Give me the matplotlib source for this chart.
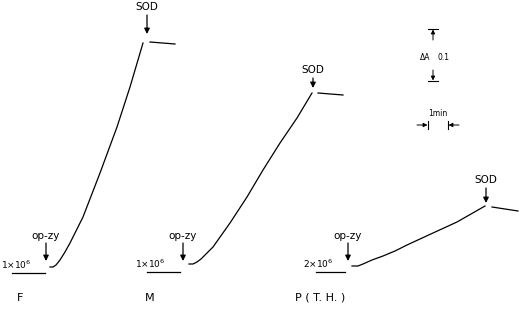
import matplotlib
matplotlib.use("Agg")
import matplotlib.pyplot as plt

# traces (pixel units, y grows downwards)
f_x = [50, 53, 56, 60, 65, 70, 76, 83, 100, 117, 130, 143]
f_y = [267, 267, 265, 260, 252, 243, 231, 217, 173, 127, 87, 43]
m_x = [189, 193, 197, 201, 206, 213, 230, 247, 263, 280, 297, 312]
m_y = [264, 264, 262, 259, 254, 247, 223, 197, 170, 143, 118, 93]
p_x = [352, 358, 363, 372, 383, 395, 407, 420, 433, 457, 485]
p_y = [266, 266, 264, 260, 256, 251, 245, 239, 233, 222, 206]

# after SOD segments
f_sod_x, f_sod_y = [150, 175], [42, 44]
m_sod_x, m_sod_y = [318, 343], [93, 95]
p_sod_x, p_sod_y = [492, 518], [207, 211]

# baseline bars under the cell-count labels
base_x = [(12, 45), (147, 180), (316, 345)]
base_y = [273, 272, 272]
cell_labels = ["1×10$^6$", "1×10$^6$", "2×10$^6$"]
cell_x = [1, 135, 303]
cell_y = [265, 264, 264]

panel_labels = ["F", "M", "P ( T. H. )"]
panel_x = [20, 150, 320]

opzy_x = [46, 183, 348]
sod_x = [147, 313, 486]
sod_top = [7, 70, 180]
sod_tip = [34, 88, 203]

fig = plt.figure(figsize=(5.2, 3.09), dpi=100)
ax = fig.add_axes([0, 0, 1, 1])
ax.set_xlim(0, 520)
ax.set_ylim(309, 0)
ax.axis("off")

lw = 0.9
for xs, ys in [(f_x, f_y), (m_x, m_y), (p_x, p_y),
               (f_sod_x, f_sod_y), (m_sod_x, m_sod_y), (p_sod_x, p_sod_y)]:
    ax.plot(xs, ys, color="black", lw=lw, solid_joinstyle="round")

arrow = dict(arrowstyle="-|>", color="black", lw=0.9, mutation_scale=8,
             shrinkA=0, shrinkB=0)

for i in range(3):
    ax.plot(base_x[i], [base_y[i]] * 2, color="black", lw=lw)
    ax.text(cell_x[i], cell_y[i], cell_labels[i], fontsize=6.5, va="center", ha="left")
    ax.text(panel_x[i], 298, panel_labels[i], fontsize=8, va="center", ha="center")
    # op-zy marker
    ax.text(opzy_x[i], 236, "op-zy", fontsize=7.5, va="center", ha="center")
    ax.annotate("", xy=(opzy_x[i], 261), xytext=(opzy_x[i], 243), arrowprops=arrow)
    # SOD marker
    ax.text(sod_x[i], sod_top[i], "SOD", fontsize=7.5, va="center", ha="center")
    ax.annotate("", xy=(sod_x[i], sod_tip[i]), xytext=(sod_x[i], sod_top[i] + 8),
                arrowprops=arrow)

# scale bars
small = dict(arrowstyle="-|>", color="black", lw=0.7, mutation_scale=6,
             shrinkA=0, shrinkB=0)
ax.plot([428, 438], [29, 29], color="black", lw=0.8)
ax.annotate("", xy=(433, 29.5), xytext=(433, 40), arrowprops=small)
ax.plot([428, 438], [81, 81], color="black", lw=0.8)
ax.annotate("", xy=(433, 80.5), xytext=(433, 70), arrowprops=small)
ax.text(420, 57, "ΔA", fontsize=5.5, va="center", ha="left")
ax.text(437, 57, "0.1", fontsize=5.5, va="center", ha="left")

ax.text(438, 114, "1min", fontsize=5.5, va="center", ha="center")
ax.plot([428, 428], [121, 129], color="black", lw=0.8)
ax.annotate("", xy=(427.5, 125), xytext=(417, 125), arrowprops=small)
ax.plot([448, 448], [121, 129], color="black", lw=0.8)
ax.annotate("", xy=(448.5, 125), xytext=(459, 125), arrowprops=small)

fig.savefig("out.png", dpi=100, facecolor="white")
